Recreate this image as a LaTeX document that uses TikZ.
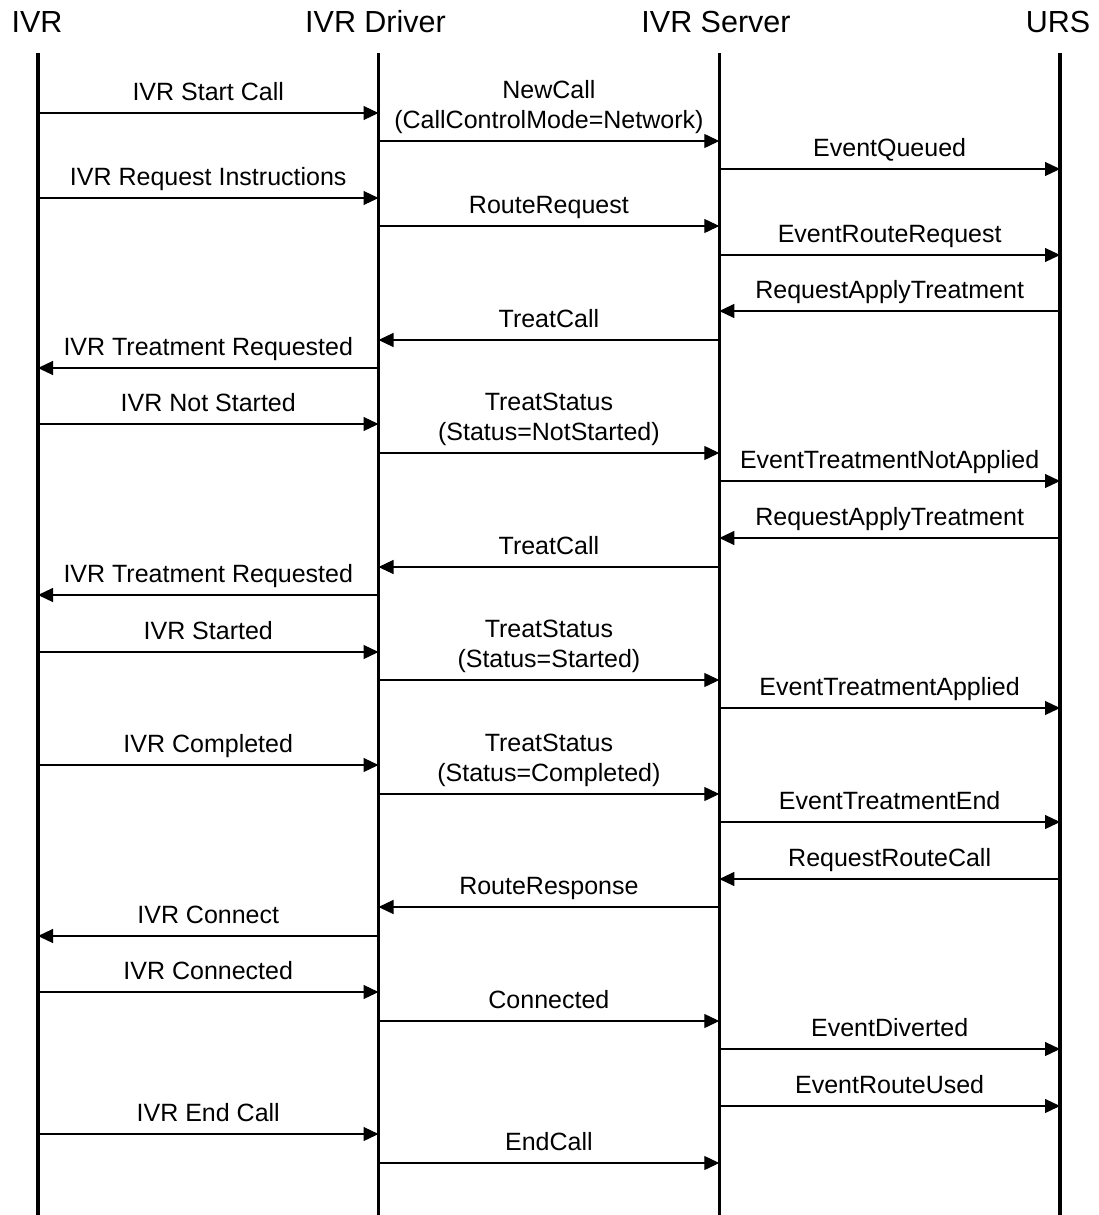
\documentclass[tikz,border=0pt]{standalone}
\usepackage{fontspec}
\setmainfont{Liberation Sans}
\usetikzlibrary{arrows.meta,calc}
\tikzset{
  lifeline/.style={line width=3.2pt},
  msgarrow/.style={line width=1.2pt,-{Triangle[length=15pt,width=14pt]}},
  head/.style={font=\fontsize{30.5}{36}\selectfont,anchor=base,inner sep=0pt},
  lbl/.style={font=\fontsize{25}{30}\selectfont,anchor=base,inner sep=0pt},
}
\newcommand{\msg}[5]{%
  \coordinate (#1s) at (#2 |- 0,#4);
  \coordinate (#1e) at (#3 |- 0,#4);
  \draw[msgarrow] (#1s) -- (#1e);
  \node[lbl] (#1l) at ($(#1s)!0.5!(#1e)+(0,-13)$) {#5};
}
\newcommand{\msgtwo}[6]{%
  \coordinate (#1s) at (#2 |- 0,#4);
  \coordinate (#1e) at (#3 |- 0,#4);
  \draw[msgarrow] (#1s) -- (#1e);
  \node[lbl] (#1a) at ($(#1s)!0.5!(#1e)+(0,-43)$) {#5};
  \node[lbl] (#1b) at ($(#1s)!0.5!(#1e)+(0,-13)$) {#6};
}
\begin{document}
\begin{tikzpicture}[x=1pt,y=-1pt]
\useasboundingbox (0,0) rectangle (1098,1215);
% headers
\node[head] (ivrh) at (37,33) {IVR};
\node[head] (drvh) at (375.5,33) {IVR Driver};
\node[head] (srvh) at (716,33) {IVR Server};
\node[head] (ursh) at (1058,33) {URS};
% lifelines
\coordinate (ivr) at (38,53);
\coordinate (drv) at (378.5,53);
\coordinate (srv) at (719.3,53);
\coordinate (urs) at (1060,53);
\coordinate (ivrb) at (38,1215);
\coordinate (drvb) at (378.5,1215);
\coordinate (srvb) at (719.3,1215);
\coordinate (ursb) at (1060,1215);
\draw[lifeline] (ivr) -- (ivrb);
\draw[lifeline] (drv) -- (drvb);
\draw[lifeline] (srv) -- (srvb);
\draw[lifeline] (urs) -- (ursb);
% messages
\msg{m1}{ivr}{drv}{113}{IVR Start Call}
\msgtwo{m2}{drv}{srv}{141}{NewCall}{(CallControlMode=Network)}
\msg{m3}{srv}{urs}{169}{EventQueued}
\msg{m4}{ivr}{drv}{198}{IVR Request Instructions}
\msg{m5}{drv}{srv}{226}{RouteRequest}
\msg{m6}{srv}{urs}{255}{EventRouteRequest}
\msg{m7}{urs}{srv}{311}{RequestApplyTreatment}
\msg{m8}{srv}{drv}{340}{TreatCall}
\msg{m9}{drv}{ivr}{368}{IVR Treatment Requested}
\msg{m10}{ivr}{drv}{424}{IVR Not Started}
\msgtwo{m11}{drv}{srv}{453}{TreatStatus}{(Status=NotStarted)}
\msg{m12}{srv}{urs}{481}{EventTreatmentNotApplied}
\msg{m13}{urs}{srv}{538}{RequestApplyTreatment}
\msg{m14}{srv}{drv}{567}{TreatCall}
\msg{m15}{drv}{ivr}{595}{IVR Treatment Requested}
\msg{m16}{ivr}{drv}{652}{IVR Started}
\msgtwo{m17}{drv}{srv}{680}{TreatStatus}{(Status=Started)}
\msg{m18}{srv}{urs}{708}{EventTreatmentApplied}
\msg{m19}{ivr}{drv}{765}{IVR Completed}
\msgtwo{m20}{drv}{srv}{794}{TreatStatus}{(Status=Completed)}
\msg{m21}{srv}{urs}{822}{EventTreatmentEnd}
\msg{m22}{urs}{srv}{879}{RequestRouteCall}
\msg{m23}{srv}{drv}{907}{RouteResponse}
\msg{m24}{drv}{ivr}{936}{IVR Connect}
\msg{m25}{ivr}{drv}{992}{IVR Connected}
\msg{m26}{drv}{srv}{1021}{Connected}
\msg{m27}{srv}{urs}{1049}{EventDiverted}
\msg{m28}{srv}{urs}{1106}{EventRouteUsed}
\msg{m29}{ivr}{drv}{1134}{IVR End Call}
\msg{m30}{drv}{srv}{1163}{EndCall}
\end{tikzpicture}
\end{document}
